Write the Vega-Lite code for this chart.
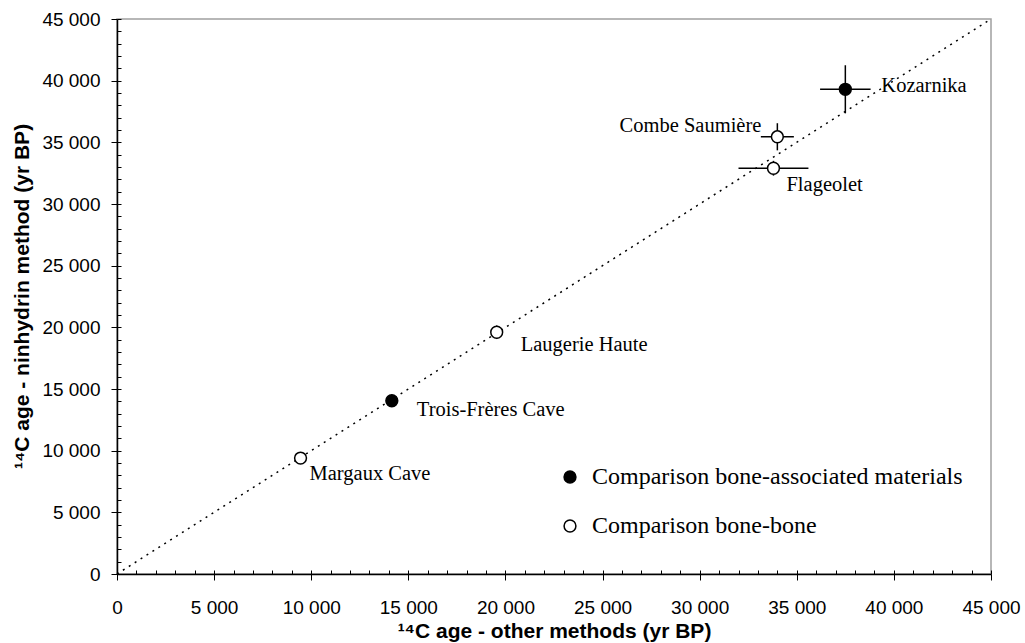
{
  "$schema": "https://vega.github.io/schema/vega-lite/v6.json",
  "width": 874,
  "height": 555,
  "autosize": {"type": "none"},
  "padding": {"left": 117, "top": 19, "right": 34, "bottom": 69},
  "background": "white",
  "config": {
    "view": {"stroke": "#a0a0a0", "strokeWidth": 1.5},
    "font": "Liberation Sans",
    "axis": {
      "domainColor": "black",
      "domainWidth": 1.5,
      "tickColor": "black",
      "tickWidth": 1,
      "grid": false,
      "labelFont": "Liberation Sans",
      "labelFontSize": 19,
      "labelColor": "black",
      "labelOverlap": false,
      "labelFlush": false,
      "titleFont": "Liberation Sans",
      "titleFontSize": 21,
      "titleFontWeight": "bold",
      "titleColor": "black"
    }
  },
  "datasets": {
    "sites": [
      {"site": "Kozarnika", "type": "Comparison bone-associated materials", "x": 37500, "y": 39300, "xlo": 36200, "xhi": 38800, "ylo": 37350, "yhi": 41250},
      {"site": "Combe Saumière", "type": "Comparison bone-bone", "x": 34000, "y": 35450, "xlo": 33150, "xhi": 34850, "ylo": 34350, "yhi": 36550},
      {"site": "Flageolet", "type": "Comparison bone-bone", "x": 33800, "y": 32900, "xlo": 32000, "xhi": 35600, "ylo": 32300, "yhi": 33500},
      {"site": "Laugerie Haute", "type": "Comparison bone-bone", "x": 19550, "y": 19600, "xlo": 19350, "xhi": 19750, "ylo": 19050, "yhi": 20150},
      {"site": "Trois-Frères Cave", "type": "Comparison bone-associated materials", "x": 14150, "y": 14050, "xlo": 14150, "xhi": 14150, "ylo": 14050, "yhi": 14050},
      {"site": "Margaux Cave", "type": "Comparison bone-bone", "x": 9450, "y": 9400, "xlo": 9450, "xhi": 9450, "ylo": 9400, "yhi": 9400}
    ],
    "diag": [{"x": 0, "y": 0}, {"x": 45000, "y": 45000}]
  },
  "resolve": {"axis": {"x": "independent", "y": "independent"}},
  "layer": [
    {
      "data": {"name": "diag"},
      "mark": {"type": "line", "color": "black", "strokeWidth": 1.5, "strokeDash": [2, 5]},
      "encoding": {
        "x": {
          "field": "x", "type": "quantitative",
          "scale": {"domain": [0, 45000], "nice": false, "zero": false},
          "axis": {
            "orient": "bottom", "title": null, "labels": false, "domain": false, "ticks": true,
            "tickSize": -4,
            "values": [0,1000,2000,3000,4000,5000,6000,7000,8000,9000,10000,11000,12000,13000,14000,15000,16000,17000,18000,19000,20000,21000,22000,23000,24000,25000,26000,27000,28000,29000,30000,31000,32000,33000,34000,35000,36000,37000,38000,39000,40000,41000,42000,43000,44000,45000]
          }
        },
        "y": {
          "field": "y", "type": "quantitative",
          "scale": {"domain": [0, 45000], "nice": false, "zero": false},
          "axis": {
            "orient": "left", "title": null, "labels": false, "domain": false, "ticks": true,
            "tickSize": -4,
            "values": [0,1000,2000,3000,4000,5000,6000,7000,8000,9000,10000,11000,12000,13000,14000,15000,16000,17000,18000,19000,20000,21000,22000,23000,24000,25000,26000,27000,28000,29000,30000,31000,32000,33000,34000,35000,36000,37000,38000,39000,40000,41000,42000,43000,44000,45000]
          }
        }
      }
    },
    {
      "data": {"name": "sites"},
      "encoding": {
        "x": {
          "field": "x", "type": "quantitative",
          "title": "¹⁴C age - other methods (yr BP)",
          "axis": {
            "orient": "bottom",
            "values": [0, 5000, 10000, 15000, 20000, 25000, 30000, 35000, 40000, 45000],
            "tickSize": 6,
            "labelExpr": "replace(format(datum.value, ','), ',', ' ')",
            "labelPadding": 18,
            "titleX": 437,
            "titleY": 57,
            "titleBaseline": "middle",
            "titleAnchor": "middle"
          }
        },
        "y": {
          "field": "y", "type": "quantitative",
          "title": "¹⁴C age - ninhydrin method (yr BP)",
          "axis": {
            "orient": "left",
            "values": [0, 5000, 10000, 15000, 20000, 25000, 30000, 35000, 40000, 45000],
            "tickSize": 6,
            "labelExpr": "replace(format(datum.value, ','), ',', ' ')",
            "labelPadding": 11,
            "titleX": -95,
            "titleY": 277,
            "titleBaseline": "middle",
            "titleAnchor": "middle",
            "titleAngle": -90
          }
        }
      },
      "layer": [
        {
          "mark": {"type": "rule", "color": "black", "strokeWidth": 1.5},
          "encoding": {
            "x": {"field": "xlo", "type": "quantitative", "title": "¹⁴C age - other methods (yr BP)"},
            "x2": {"field": "xhi"}
          }
        },
        {
          "mark": {"type": "rule", "color": "black", "strokeWidth": 1.5},
          "encoding": {
            "y": {"field": "ylo", "type": "quantitative", "title": "¹⁴C age - ninhydrin method (yr BP)"},
            "y2": {"field": "yhi"}
          }
        },
        {
          "mark": {"type": "point", "shape": "circle", "filled": true, "stroke": "black", "strokeWidth": 1.5, "size": 140, "opacity": 1},
          "encoding": {
            "fill": {
              "field": "type", "type": "nominal",
              "scale": {"domain": ["Comparison bone-associated materials", "Comparison bone-bone"], "range": ["black", "white"]},
              "legend": {
                "title": null,
                "orient": "none",
                "legendX": 441,
                "legendY": 446,
                "symbolType": "circle",
                "symbolSize": 140,
                "symbolStrokeColor": "black",
                "symbolStrokeWidth": 1.5,
                "symbolOpacity": 1,
                "labelFont": "Liberation Serif",
                "labelFontSize": 24,
                "labelColor": "black",
                "labelLimit": 500,
                "labelOffset": 10,
                "rowPadding": 25
              }
            }
          }
        },
        {
          "transform": [{"filter": "datum.site === 'Kozarnika'"}],
          "mark": {"type": "text", "font": "Liberation Serif", "fontSize": 20.5, "align": "left", "baseline": "middle", "dx": 36, "dy": -3, "color": "black"},
          "encoding": {"text": {"field": "site"}}
        },
        {
          "transform": [{"filter": "datum.site === 'Combe Saumière'"}],
          "mark": {"type": "text", "font": "Liberation Serif", "fontSize": 20.5, "align": "right", "baseline": "middle", "dx": -16, "dy": -11, "color": "black"},
          "encoding": {"text": {"field": "site"}}
        },
        {
          "transform": [{"filter": "datum.site === 'Flageolet'"}],
          "mark": {"type": "text", "font": "Liberation Serif", "fontSize": 20.5, "align": "left", "baseline": "middle", "dx": 13, "dy": 17, "color": "black"},
          "encoding": {"text": {"field": "site"}}
        },
        {
          "transform": [{"filter": "datum.site === 'Laugerie Haute'"}],
          "mark": {"type": "text", "font": "Liberation Serif", "fontSize": 20.5, "align": "left", "baseline": "middle", "dx": 24, "dy": 13, "color": "black"},
          "encoding": {"text": {"field": "site"}}
        },
        {
          "transform": [{"filter": "datum.site === 'Trois-Frères Cave'"}],
          "mark": {"type": "text", "font": "Liberation Serif", "fontSize": 20.5, "align": "left", "baseline": "middle", "dx": 25, "dy": 9, "color": "black"},
          "encoding": {"text": {"field": "site"}}
        },
        {
          "transform": [{"filter": "datum.site === 'Margaux Cave'"}],
          "mark": {"type": "text", "font": "Liberation Serif", "fontSize": 20.5, "align": "left", "baseline": "middle", "dx": 9, "dy": 16, "color": "black"},
          "encoding": {"text": {"field": "site"}}
        }
      ]
    }
  ]
}
